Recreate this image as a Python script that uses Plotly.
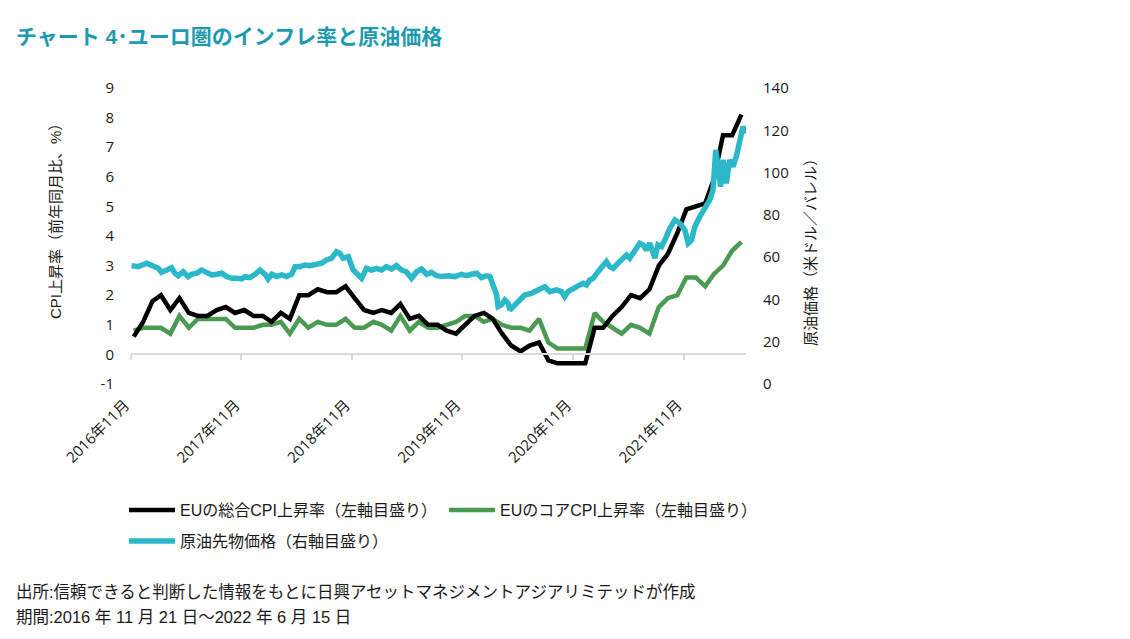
import pandas as pd
import plotly.graph_objects as go

# ---------------- data ----------------
cpi_months = pd.date_range("2016-11-30", periods=67, freq="ME")

headline_cpi = [
    0.6, 1.1,
    1.8, 2.0, 1.5, 1.9, 1.4, 1.3, 1.3, 1.5, 1.6, 1.4, 1.5, 1.3,
    1.3, 1.1, 1.4, 1.2, 2.0, 2.0, 2.2, 2.1, 2.1, 2.3, 1.9, 1.5,
    1.4, 1.5, 1.4, 1.7, 1.2, 1.3, 1.0, 1.0, 0.8, 0.7, 1.0, 1.3,
    1.4, 1.2, 0.7, 0.3, 0.1, 0.3, 0.4, -0.2, -0.3, -0.3, -0.3, -0.3,
    0.9, 0.9, 1.3, 1.6, 2.0, 1.9, 2.2, 3.0, 3.4, 4.1, 4.9, 5.0,
    5.1, 5.9, 7.4, 7.4, 8.1,
]

core_cpi = [
    0.8, 0.9,
    0.9, 0.9, 0.7, 1.3, 0.9, 1.2, 1.2, 1.2, 1.2, 0.9, 0.9, 0.9,
    1.0, 1.0, 1.1, 0.7, 1.2, 0.9, 1.1, 1.0, 1.0, 1.2, 0.9, 0.9,
    1.1, 1.0, 0.8, 1.3, 0.8, 1.1, 0.9, 0.9, 1.0, 1.1, 1.3, 1.3,
    1.1, 1.2, 1.0, 0.9, 0.9, 0.8, 1.2, 0.4, 0.2, 0.2, 0.2, 0.2,
    1.4, 1.1, 0.9, 0.7, 1.0, 0.9, 0.7, 1.6, 1.9, 2.0, 2.6, 2.6,
    2.3, 2.7, 3.0, 3.5, 3.8,
]

oil_dates = [
    "2016-11-23", "2016-12-15", "2017-01-12", "2017-02-03", "2017-02-19", "2017-03-02",
    "2017-03-19", "2017-04-04", "2017-04-15", "2017-04-26", "2017-05-13", "2017-05-29",
    "2017-06-09", "2017-06-26", "2017-07-12", "2017-07-29", "2017-08-15", "2017-08-31",
    "2017-09-17", "2017-10-03", "2017-10-20", "2017-11-05", "2017-11-22", "2017-12-02",
    "2017-12-19", "2018-01-05", "2018-01-21", "2018-02-07", "2018-02-17", "2018-03-01",
    "2018-03-17", "2018-04-03", "2018-04-19", "2018-05-06", "2018-05-17", "2018-06-02",
    "2018-06-19", "2018-07-05", "2018-07-22", "2018-08-13", "2018-08-29", "2018-09-15",
    "2018-10-01", "2018-10-12", "2018-10-23", "2018-11-09", "2018-11-25", "2018-12-06",
    "2018-12-23", "2019-01-08", "2019-01-25", "2019-02-10", "2019-02-27", "2019-03-15",
    "2019-04-01", "2019-04-17", "2019-05-04", "2019-05-20", "2019-06-06", "2019-06-23",
    "2019-07-09", "2019-07-26", "2019-08-11", "2019-08-28", "2019-09-13", "2019-10-05",
    "2019-10-27", "2019-11-18", "2019-12-05", "2019-12-21", "2020-01-07", "2020-01-23",
    "2020-02-09", "2020-02-20", "2020-03-02", "2020-03-13", "2020-03-18", "2020-03-29",
    "2020-04-09", "2020-04-20", "2020-04-26", "2020-05-12", "2020-05-29", "2020-06-14",
    "2020-07-06", "2020-07-28", "2020-08-19", "2020-09-05", "2020-09-27", "2020-10-13",
    "2020-10-24", "2020-11-04", "2020-11-21", "2020-12-07", "2020-12-24", "2021-01-04",
    "2021-01-15", "2021-01-26", "2021-02-11", "2021-02-28", "2021-03-11", "2021-03-22",
    "2021-04-02", "2021-04-18", "2021-05-05", "2021-05-16", "2021-05-27", "2021-06-12",
    "2021-06-29", "2021-07-10", "2021-07-21", "2021-08-01", "2021-08-18", "2021-08-28",
    "2021-09-09", "2021-09-20", "2021-10-01", "2021-10-06", "2021-10-23", "2021-11-08",
    "2021-11-25", "2021-12-06", "2021-12-17", "2021-12-28", "2022-01-13", "2022-01-30",
    "2022-02-15", "2022-02-26", "2022-03-07", "2022-03-15", "2022-03-23", "2022-03-31",
    "2022-04-11", "2022-04-22", "2022-05-03", "2022-05-14", "2022-05-25", "2022-06-05",
    "2022-06-14",
]

oil_price = [
    56.0, 55.5, 57.1, 56.0, 54.7, 52.8,
    53.9, 55.0, 52.4, 51.2, 53.1, 50.8,
    51.9, 52.4, 53.9, 52.8, 51.6, 51.9,
    52.4, 50.8, 50.0, 50.0, 49.7, 50.8,
    50.3, 51.9, 53.9, 51.9, 49.7, 51.9,
    50.8, 51.6, 50.8, 51.9, 55.5, 55.5,
    56.3, 56.0, 56.6, 57.1, 58.7, 59.5,
    62.6, 61.8, 59.5, 60.2, 53.9, 52.4,
    50.0, 54.7, 53.9, 54.7, 53.9, 55.5,
    54.4, 56.0, 53.9, 53.1, 50.0, 53.1,
    54.4, 51.9, 52.8, 51.2, 50.8, 51.2,
    50.8, 51.9, 51.2, 51.9, 52.4, 50.3,
    51.2, 50.8, 46.8, 42.1, 36.6, 37.4,
    39.7, 38.2, 35.0, 37.4, 40.5, 42.1,
    42.9, 44.5, 46.0, 43.7, 44.5, 43.7,
    41.3, 43.7, 45.3, 46.4, 47.6, 46.8,
    49.2, 50.0, 53.1, 56.3, 57.9, 55.5,
    54.7, 57.1, 59.5, 61.0, 59.5, 63.4,
    66.6, 65.8, 63.4, 66.6, 59.5, 65.8,
    65.0, 68.1, 72.0, 73.6, 77.6, 76.0,
    72.8, 66.6, 68.1, 74.4, 79.1, 83.9,
    87.0, 91.8, 110.7, 102.8, 93.3, 106.0,
    94.9, 106.0, 102.8, 107.5, 113.8, 121.7,
    118.6,
]

tick_dates = ["2016-11-21", "2017-11-21", "2018-11-21", "2019-11-21", "2020-11-21", "2021-11-21"]
tick_labels = ["2016年11月", "2017年11月", "2018年11月", "2019年11月", "2020年11月", "2021年11月"]

left_ticks = [-1, 0, 1, 2, 3, 4, 5, 6, 7, 8, 9]
left_tick_text = ["-1", "0", "1", "2", "3", "4", "5", "6", "7", "8", "9"]
right_ticks = [0, 20, 40, 60, 80, 100, 120, 140]

# ---------------- styling ----------------
W, H = 1130, 639
PL, PR, PT, PB = 131, 746, 88, 384   # plot area in pixels


def fx(px):
    return (px - PL) / (PR - PL)


def fy(py):
    return (PB - py) / (PB - PT)


NUM_FONT = "Open Sans, Noto Sans CJK JP, sans-serif"
TXT_FONT = "Liberation Sans, Noto Sans CJK JP, sans-serif"
BLACK = "#000000"
GREEN = "#4b9a52"
CYAN = "#2bb8c9"
TEAL = "#1d9ab0"
TXT = "#1a1a1a"

fig = go.Figure()

fig.add_trace(go.Scatter(
    x=cpi_months, y=core_cpi, mode="lines", name="EUのコアCPI上昇率（左軸目盛り）",
    line=dict(color=GREEN, width=4.5), legend="legend2",
))
fig.add_trace(go.Scatter(
    x=cpi_months, y=headline_cpi, mode="lines", name="EUの総合CPI上昇率（左軸目盛り）",
    line=dict(color=BLACK, width=4.5), legend="legend",
))
fig.add_trace(go.Scatter(
    x=oil_dates, y=oil_price, mode="lines", name="原油先物価格（右軸目盛り）",
    line=dict(color=CYAN, width=5.5), yaxis="y2", legend="legend3",
))

legend_common = dict(
    orientation="h", xref="container", yref="container",
    xanchor="left", yanchor="top",
    font=dict(family=TXT_FONT, size=16, color=TXT),
    itemwidth=46, bgcolor="rgba(0,0,0,0)",
)

fig.update_layout(
    width=W, height=H,
    margin=dict(l=PL, r=W - PR, t=PT, b=H - PB, pad=0, autoexpand=False),
    paper_bgcolor="white", plot_bgcolor="white",
    font=dict(family=TXT_FONT, size=15, color=TXT),
    showlegend=True,
    xaxis=dict(
        type="date", automargin=False,
        range=["2016-11-21", "2022-06-15"],
        anchor="free", position=0.1,
        showline=True, linecolor="#d9d9d9", linewidth=2,
        ticks="outside", ticklen=5, tickwidth=2, tickcolor="#d9d9d9",
        tickvals=tick_dates, ticktext=tick_labels,
        tickangle=-45, ticklabelstandoff=30, ticklabelshift=-6,
        tickfont=dict(family=NUM_FONT, size=15, color=TXT),
        showgrid=False, zeroline=False,
    ),
    yaxis=dict(
        range=[-1, 9], tickvals=left_ticks, ticktext=left_tick_text, automargin=False,
        showgrid=False, zeroline=False, showline=False, ticks="",
        ticklabelstandoff=16,
        tickfont=dict(family=NUM_FONT, size=15, color=TXT),
    ),
    yaxis2=dict(
        range=[0, 140], tickvals=right_ticks, overlaying="y", side="right",
        automargin=False,
        showgrid=False, zeroline=False, showline=False, ticks="",
        ticklabelstandoff=16,
        tickfont=dict(family=NUM_FONT, size=15, color=TXT),
    ),
    legend=dict(legend_common, x=124 / W, y=1 - 493 / H),
    legend2=dict(legend_common, x=444 / W, y=1 - 493 / H),
    legend3=dict(legend_common, x=124 / W, y=1 - 524 / H),
)

annotations = [
    dict(text="チャート 4･ユーロ圏のインフレ率と原油価格", x=fx(14), y=fy(36),
         xanchor="left", yanchor="middle",
         font=dict(family=TXT_FONT, size=21, color=TEAL, weight=700)),
    dict(text="CPI上昇率（前年同月比、%）", x=fx(55), y=fy(218), textangle=-90,
         xanchor="center", yanchor="middle",
         font=dict(family=TXT_FONT, size=15, color=TXT)),
    dict(text="原油価格（米ドル／バレル）", x=fx(811), y=fy(249), textangle=-90,
         xanchor="center", yanchor="middle",
         font=dict(family=TXT_FONT, size=15, color=TXT)),
    dict(text="出所:信頼できると判断した情報をもとに日興アセットマネジメントアジアリミテッドが作成",
         x=fx(14), y=fy(592), xanchor="left", yanchor="middle",
         font=dict(family=TXT_FONT, size=16.5, color=TXT)),
    dict(text="期間:2016 年 11 月 21 日～2022 年 6 月 15 日",
         x=fx(14), y=fy(617), xanchor="left", yanchor="middle",
         font=dict(family=TXT_FONT, size=16.5, color=TXT)),
]
for a in annotations:
    a.update(xref="paper", yref="paper", showarrow=False)
fig.update_layout(annotations=annotations)

fig.write_html(
    "out.html",
    config={"displayModeBar": False},
    post_script="document.body.style.margin='0px';",
)
